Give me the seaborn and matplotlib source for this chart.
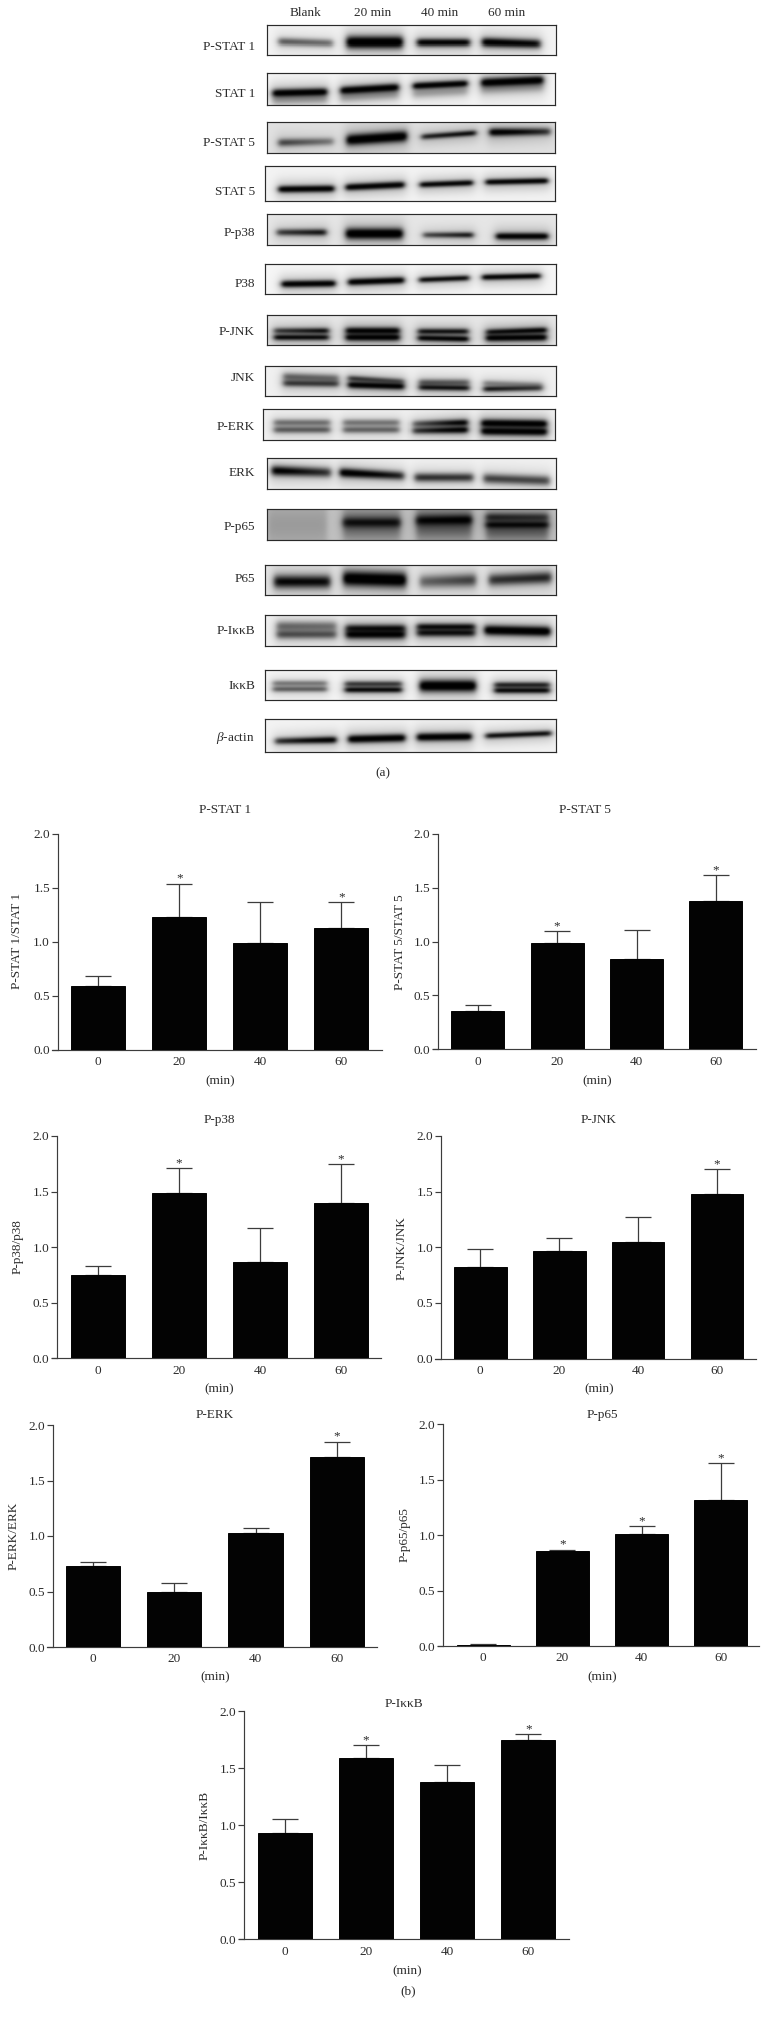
import numpy as np
import pandas as pd
import matplotlib
matplotlib.use("Agg")
import matplotlib.pyplot as plt
import seaborn as sns

# ---------- values ----------
MINUTES = ["0", "20", "40", "60"]
Y_TICKS = [0.0, 0.5, 1.0, 1.5, 2.0]

STAT1_MEAN = [0.59, 1.23, 0.99, 1.13]
STAT1_TOP = [0.68, 1.54, 1.37, 1.37]
STAT1_STAR = [0, 1, 0, 1]
STAT5_MEAN = [0.36, 0.99, 0.84, 1.38]
STAT5_TOP = [0.41, 1.10, 1.11, 1.62]
STAT5_STAR = [0, 1, 0, 1]
P38_MEAN = [0.75, 1.49, 0.87, 1.40]
P38_TOP = [0.83, 1.71, 1.17, 1.75]
P38_STAR = [0, 1, 0, 1]
JNK_MEAN = [0.82, 0.97, 1.05, 1.48]
JNK_TOP = [0.98, 1.08, 1.27, 1.70]
JNK_STAR = [0, 0, 0, 1]
ERK_MEAN = [0.73, 0.50, 1.03, 1.71]
ERK_TOP = [0.77, 0.58, 1.07, 1.85]
ERK_STAR = [0, 0, 0, 1]
P65_MEAN = [0.01, 0.86, 1.01, 1.32]
P65_TOP = [0.02, 0.87, 1.08, 1.65]
P65_STAR = [0, 1, 1, 1]
IKKB_MEAN = [0.93, 1.59, 1.38, 1.75]
IKKB_TOP = [1.05, 1.70, 1.53, 1.80]
IKKB_STAR = [0, 1, 0, 1]

LANE_LABELS = ["Blank", "20 min", "40 min", "60 min"]

# band darkness (left, right) per band of each blot
D_PSTAT1 = [(.50, .42), (1, 1), (.92, .88), (.98, .80)]
D_STAT1 = [(.22, .22), (.22, .22), (.2, .2), (.2, .2), (1, 1), (1, 1), (1, 1), (1, 1)]
D_PSTAT5 = [(.58, .35), (1, 1), (.72, .85), (1, .62)]
D_STAT5 = [(1, 1), (.98, .98), (.95, .98), (.98, 1)]
D_PP38 = [(.6, .8), (1, 1), (.55, .8), (.98, .98)]
D_P38 = [(1, 1), (1, 1), (.85, .85), (.98, .98)]
D_PJNK = [(.6, .85), (.9, .85), (.95, .95), (1, 1), (.8, .8), (.95, 1), (.8, 1), (1, 1)]
D_JNK = [(.45, .4), (.62, .6), (.65, .5), (1, .95), (.5, .45), (.8, .8), (.33, .26), (.8, .62)]
D_PERK = [(.4, .4), (.48, .48), (.38, .38), (.45, .45), (.45, .95), (.62, 1), (1, 1), (1, 1)]
D_ERK = [(.9, .62), (1, .68), (.65, .62), (.58, .55)]
D_PP65 = [(.14, .14), (.32, .32), (.72, .72), (.38, .38), (.8, .9), (.38, .38), (.6, .5), (.8, .78)]
D_P65 = [(.8, .78), (.98, .98), (.42, .58), (.62, .68)]
D_PIKKB = [(.42, .38), (.52, .5), (.78, .82), (.9, .9), (.82, .82), (.78, .78), (1, 1)]
D_IKKB = [(.38, .38), (.48, .48), (.62, .62), (.88, .88), (1, 1), (.72, .72), (.88, .88)]
D_ACTIN = [(.65, .98), (1, 1), (1, 1), (.82, .82)]

# ---------- layout (pixels of the 768x2017 picture) ----------
W, H = 768, 2017
sns.set_theme(style="white")
plt.rcParams["font.family"] = ["Liberation Serif", "DejaVu Serif"]
plt.rcParams["mathtext.fontset"] = "custom"
plt.rcParams["mathtext.rm"] = "Liberation Serif"
plt.rcParams["mathtext.it"] = "Liberation Serif:italic"
TXT = "#2b2b2b"
LINE = "#3c3c3c"
FS = 9.5

fig = plt.figure(figsize=(W / 100, H / 100), dpi=100, facecolor="white")


def put(x, y, s, **kw):
    kw.setdefault("ha", "center")
    kw.setdefault("va", "center")
    kw.setdefault("fontsize", FS)
    kw.setdefault("color", TXT)
    fig.text(x / W, 1 - y / H, s, **kw)


def soften(a, sd=2.0):
    r = int(3 * sd)
    k = np.exp(-0.5 * (np.arange(-r, r + 1) / sd) ** 2)
    k = k / k.sum()
    p = np.pad(a, r, mode="edge")
    p = np.apply_along_axis(lambda v: np.convolve(v, k, mode="same"), 0, p)
    p = np.apply_along_axis(lambda v: np.convolve(v, k, mode="same"), 1, p)
    return p[r:-r, r:-r]


def blot(x0z, x1z, y0z, y1z, off, bg, darks, geom):
    """Blot box and bands are given in 3x zoom px; `off` is the crop's y start."""
    l, r = 180 + x0z / 3, 180 + x1z / 3
    t, b = off + y0z / 3, off + y1z / 3
    ax = fig.add_axes([l / W, 1 - b / H, (r - l) / W, (b - t) / H])
    nx, ny = int((r - l) * 2), int((b - t) * 2)
    X = np.linspace(x0z, x1z, nx)[None, :]
    Y = np.linspace(y0z, y1z, ny)[:, None]
    keep = np.ones((ny, nx))
    for (dl, dr), (a, c, ya, yc, th) in zip(darks, geom):
        f = np.clip((X - a) / (c - a), 0, 1)
        yy = ya + (yc - ya) * f
        d = dl + (dr - dl) * f
        edge = 1 / (1 + np.exp(-(X - a) / 4.5)) / (1 + np.exp((X - c) / 4.5))
        soft = 1 / (1 + np.exp(-(X - a + 8) / 8)) / (1 + np.exp((X - c - 8) / 8))
        core = np.clip(1.25 * d * edge * np.exp(-0.5 * ((Y - yy) / (th * 1.15)) ** 2), 0, 1)
        halo = 0.22 * d * soft * np.exp(-0.5 * ((Y - yy - 2) / (th * 2.6 + 7)) ** 2)
        keep = keep * (1 - core) * (1 - halo)
    grid = soften(1 - (1 - bg) * keep)
    sns.heatmap(grid, ax=ax, cmap="gray_r", vmin=0, vmax=1, cbar=False,
                xticklabels=False, yticklabels=False, rasterized=True)
    for s in ax.spines.values():
        s.set_visible(True)
        s.set_color("#2a2a2a")
        s.set_linewidth(0.85)


# ---------- blots ----------
blot(260, 1128, 74, 164, 0, .05, D_PSTAT1, [(295, 458, 125, 130, 7), (500, 668, 127, 127, 11),
     (712, 870, 128, 128, 7), (908, 1082, 127, 132, 8)])
blot(260, 1126, 218, 316, 0, .04, D_STAT1, [(278, 440, 300, 296, 9), (482, 655, 292, 282, 9),
     (700, 862, 280, 272, 9), (905, 1090, 268, 260, 9), (278, 440, 280, 276, 7), (482, 655, 272, 262, 7),
     (700, 862, 258, 250, 6), (905, 1090, 248, 240, 8)])
blot(260, 1126, 366, 458, 0, .12, D_PSTAT5, [(295, 460, 428, 424, 7), (500, 680, 420, 408, 10),
     (725, 888, 410, 398, 5), (930, 1112, 396, 394, 7)])
blot(256, 1126, 498, 604, 0, .05, D_STAT5, [(296, 462, 568, 566, 6), (498, 672, 562, 554, 6),
     (720, 878, 554, 548, 5), (918, 1104, 546, 542, 5)])
blot(260, 1128, 642, 735, 0, .1, D_PP38, [(290, 438, 698, 698, 6), (498, 668, 702, 702, 10),
     (730, 880, 706, 706, 5), (950, 1105, 710, 710, 6)])
blot(254, 1128, 791, 882, 0, .04, D_P38, [(305, 465, 853, 851, 6), (505, 672, 847, 841, 6),
     (718, 868, 840, 834, 5), (908, 1082, 832, 828, 5)])
blot(260, 1128, 946, 1035, 0, .1, D_PJNK, [(282, 445, 993, 993, 5), (282, 445, 1013, 1013, 5),
     (498, 658, 993, 993, 6), (498, 658, 1013, 1013, 6), (715, 865, 995, 995, 5), (715, 865, 1015, 1018, 5),
     (920, 1100, 997, 991, 5), (920, 1100, 1015, 1013, 6)])
blot(254, 1128, 1097, 1188, 0, .06, D_JNK, [(310, 475, 1130, 1135, 7), (310, 475, 1150, 1152, 6),
     (505, 672, 1135, 1145, 5), (505, 672, 1155, 1160, 6), (718, 868, 1148, 1148, 6), (718, 868, 1163, 1165, 5),
     (912, 1088, 1150, 1155, 5), (912, 1088, 1168, 1165, 5)])
blot(250, 1124, 26, 120, 400, .06, D_PERK, [(282, 450, 68, 68, 6), (282, 450, 90, 90, 6),
     (490, 658, 68, 68, 6), (490, 658, 90, 90, 6), (698, 862, 72, 68, 6), (698, 862, 93, 90, 6),
     (905, 1100, 70, 72, 7), (905, 1100, 94, 96, 7)])
blot(260, 1128, 175, 268, 400, .05, D_ERK, [(275, 452, 212, 218, 9), (480, 672, 218, 228, 8),
     (705, 880, 233, 233, 8), (912, 1110, 236, 243, 9)])
blot(260, 1128, 328, 420, 400, .24, D_PP65, [(262, 440, 375, 375, 45), (490, 660, 375, 375, 28),
     (490, 660, 368, 368, 9), (710, 875, 375, 375, 28), (710, 875, 362, 360, 9), (920, 1105, 385, 385, 25),
     (920, 1105, 352, 352, 7), (920, 1105, 375, 375, 6)])
blot(254, 1128, 494, 584, 400, .1, D_P65, [(282, 450, 545, 545, 12), (490, 678, 535, 540, 14),
     (720, 888, 545, 540, 12), (928, 1115, 540, 532, 11)])
blot(254, 1128, 645, 737, 400, .06, D_PIKKB, [(290, 468, 678, 678, 9), (290, 468, 703, 703, 8),
     (498, 675, 685, 685, 7), (498, 675, 703, 703, 8), (712, 885, 680, 680, 6), (712, 885, 698, 698, 7),
     (915, 1112, 690, 694, 9)])
blot(254, 1128, 809, 900, 400, .04, D_IKKB, [(278, 440, 850, 850, 5), (278, 440, 868, 868, 5),
     (495, 665, 852, 852, 5), (495, 665, 870, 870, 5), (720, 888, 858, 858, 11), (945, 1110, 855, 855, 5),
     (945, 1110, 872, 872, 5)])
blot(254, 1128, 958, 1057, 400, .05, D_ACTIN, [(285, 468, 1024, 1020, 6), (505, 675, 1018, 1014, 7),
     (712, 875, 1012, 1010, 7), (918, 1115, 1008, 1000, 5)])

for x, s in zip([305.3, 372.7, 440, 507], LANE_LABELS):
    put(x, 13, s)

row_y = [46.7, 94.3, 143.3, 192.3, 233.3, 284, 331.7, 378.3,
         426.7, 473.3, 526.7, 579.3, 630.7, 686, 738.3]
row_names = ["P-STAT 1", "STAT 1", "P-STAT 5", "STAT 5", "P-p38", "P38", "P-JNK", "JNK",
             "P-ERK", "ERK", "P-p65", "P65", "P-IκκB", "IκκB", r"$\mathit{\beta}$-actin"]
for y, s in zip(row_y, row_names):
    put(255, y, s, ha="right")
put(383, 773, "(a)")
put(408, 1991, "(b)")


# ---------- bar panels ----------
def panel(name, ylabel, mean, top, star, xs, xe, yax, ytop, ybot, c0, step, title_xy, ylab_xy, min_xy):
    ax = fig.add_axes([xs / W, 1 - ybot / H, (xe - xs) / W, (ybot - ytop) / H])
    frame = pd.DataFrame({"min": MINUTES, "ratio": mean})
    sns.barplot(data=frame, x="min", y="ratio", color="#030303", saturation=1, width=0.667,
                errorbar=None, ax=ax, zorder=3, edgecolor="#030303", linewidth=0.7)
    pos = np.arange(len(MINUTES))
    low = np.zeros(len(mean))
    high = np.array(top) - np.array(mean)
    ax.errorbar(pos, mean, yerr=[low, high], fmt="none", ecolor=LINE, elinewidth=0.9,
                capsize=9.6, capthick=0.9, zorder=1)
    for i, flag in enumerate(star):
        if flag:
            ax.annotate("*", (i, top[i]), xytext=(0, 3.5), textcoords="offset points",
                        ha="center", va="center", fontsize=FS, color=TXT)
    ax.set_xlim((xs - c0) / step, (xe - c0) / step)
    ax.set_ylim(0, 2)
    ax.set_yticks(Y_TICKS, [f"{v:.1f}" for v in Y_TICKS])
    ax.set_xlabel("")
    ax.set_ylabel("")
    ax.patch.set_alpha(0)
    for s in ("top", "right"):
        ax.spines[s].set_visible(False)
    ax.spines["left"].set_position(("axes", (yax - xs) / (xe - xs)))
    for s in ("left", "bottom"):
        ax.spines[s].set_color(LINE)
        ax.spines[s].set_linewidth(0.85)
    ax.tick_params(axis="y", length=4.3, width=0.85, color=LINE, labelsize=FS, labelcolor=TXT, pad=1.5, left=True)
    ax.tick_params(axis="x", length=0, labelsize=FS, labelcolor=TXT, pad=4.5)
    put(*title_xy, name)
    put(*ylab_xy, ylabel, rotation=90)
    put(*min_xy, "(min)")


panel("P-STAT 1", "P-STAT 1/STAT 1", STAT1_MEAN, STAT1_TOP, STAT1_STAR, 52, 382, 58, 834, 1049.7, 98.3, 81,
      (225, 810), (17.5, 941), (220, 1081))
panel("P-STAT 5", "P-STAT 5/STAT 5", STAT5_MEAN, STAT5_TOP, STAT5_STAR, 432.7, 755.7, 438.3, 834, 1049.3, 477.7, 79.4,
      (585, 810), (400, 942), (597, 1081))
panel("P-p38", "P-p38/p38", P38_MEAN, P38_TOP, P38_STAR, 52, 381, 57.3, 1136, 1358.3, 97.7, 81.1,
      (219, 1120), (17.5, 1247), (219, 1389))
panel("P-JNK", "P-JNK/JNK", JNK_MEAN, JNK_TOP, JNK_STAR, 435, 755.7, 441.3, 1136, 1358.5, 480.3, 78.9,
      (599, 1120), (401.7, 1248), (599, 1389))
panel("P-ERK", "P-ERK/ERK", ERK_MEAN, ERK_TOP, ERK_STAR, 47, 377.3, 53.3, 1425, 1647, 93.3, 81.1,
      (215, 1415), (13.3, 1536), (215, 1677))
panel("P-p65", "P-p65/p65", P65_MEAN, P65_TOP, P65_STAR, 437.7, 759.3, 443.3, 1424.3, 1646, 483.3, 79.1,
      (602, 1415), (404.3, 1535), (602, 1677))
panel("P-IκκB", "P-IκκB/IκκB", IKKB_MEAN, IKKB_TOP, IKKB_STAR, 239, 569, 244.3, 1711, 1939.3, 285, 81.1,
      (404, 1704), (205, 1825), (407, 1971))

fig.savefig("out.png", dpi=100, facecolor="white")
